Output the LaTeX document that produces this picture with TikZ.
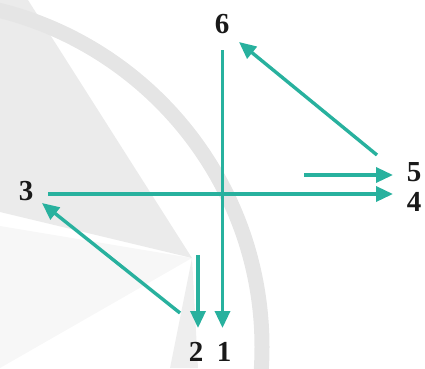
\documentclass[tikz,border=0pt]{standalone}
\usepackage{fontspec}
\setmainfont{Liberation Serif}
\usetikzlibrary{arrows.meta}
\definecolor{teal1}{RGB}{40,177,158}
\definecolor{wmA}{RGB}{229,229,229}
\definecolor{wmW}{RGB}{235,235,235}
\definecolor{wmB}{RGB}{238,238,238}
\definecolor{wmC}{RGB}{247,247,247}
\tikzset{
  arr/.style={draw=teal1, line width=3.4pt, -{Triangle[length=17pt,width=15pt]}},
  lbl/.style={font=\fontsize{29}{29}\selectfont\bfseries, text=black!90, inner sep=0pt},
}
\begin{document}
\begin{tikzpicture}[x=1pt,y=-1pt]
\useasboundingbox (0,0) rectangle (425,368);
% watermark
\begin{scope}
\clip (0,0) rectangle (425,368);
\fill[wmC] (0,226) -- (192,258) -- (0,368) -- cycle;
\fill[wmW] (0,0) -- (28,0) -- (192,258) -- (0,212) -- cycle;
\fill[wmB] (192,258) -- (198,368) -- (170,368) -- cycle;
\draw[wmA, line width=15pt] (-85,347) circle (347pt);
\end{scope}
% end points
\coordinate (vtop) at (222.5,50);
\coordinate (vbot) at (222.5,328);
\coordinate (hl) at (48,194);
\coordinate (hr) at (393,194);
\coordinate (fs) at (304,175);
\coordinate (fe) at (393,175);
\coordinate (ts) at (198,255);
\coordinate (te) at (198,328);
\coordinate (ss) at (377,155);
\coordinate (se) at (239,42);
\coordinate (rs) at (180,313);
\coordinate (re) at (42,203);
% arrows
\draw[arr] (vtop) -- (vbot);
\draw[arr] (hl) -- (hr);
\draw[arr] (fs) -- (fe);
\draw[arr] (ts) -- (te);
\draw[arr] (ss) -- (se);
\draw[arr] (rs) -- (re);
% labels
\node[lbl] (n6) at (222,24) {6};
\node[lbl] (n3) at (26,191) {3};
\node[lbl] (n5) at (414,172) {5};
\node[lbl] (n4) at (414,202) {4};
\node[lbl] (n2) at (196,352) {2};
\node[lbl] (n1) at (224,352) {1};
\end{tikzpicture}
\end{document}
